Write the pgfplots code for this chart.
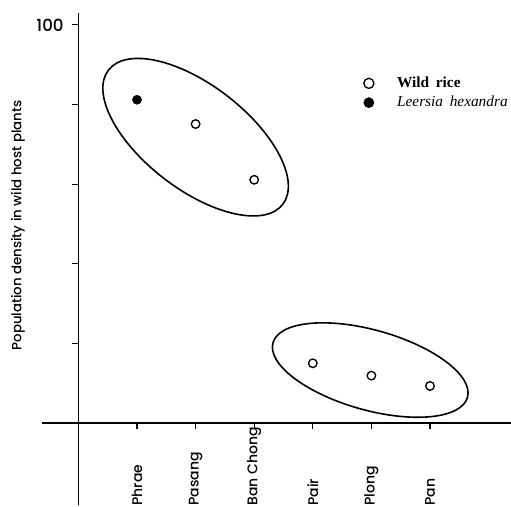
\documentclass[border=0pt]{standalone}
\usepackage{pgfplots}
\pgfplotsset{compat=1.18}
\usepackage{fontspec}
\setmainfont{Liberation Serif}
\newfontfamily\geo{Poppins}[UprightFont={* Medium}]
\begin{document}
\begin{tikzpicture}
\begin{axis}[
  at={(0pt,0pt)}, anchor=south west,
  scale only axis, width=351.75pt, height=369pt,
  xmin=-0.621, xmax=7.382, ymin=-20.6, ymax=103,
  axis lines=middle, axis line style={-, line width=1.1pt},
  clip=false,
  xtick={1,2,3,4,5,6},
  xticklabels={Phrae,Pasang,Ban Chong,Pair,Plong,Pan},
  ytick={20,40,60,80,100},
  yticklabels={,,,,100},
  /pgf/number format/assume math mode=true,
  tick align=outside,
  major tick length=4.5pt,
  tick style={line width=0.8pt, black},
  xticklabel style={font=\geo\fontsize{10.5}{12}\selectfont, yshift=-61pt, rotate=90, anchor=west},
  yticklabel style={font=\geo\fontsize{12.5}{14}\selectfont, xshift=-3pt},
  every axis y label/.style={at={(axis description cs:-0.051,0.568)}, rotate=90, anchor=center, font=\geo\fontsize{10}{12}\selectfont},
  ylabel={Population density in wild host plants},
  legend cell align=left,
  legend style={draw=none, fill=none, at={(axis cs:4.788,82.9)}, anchor=west, font=\fontsize{11.5}{13}\selectfont, row sep=1pt},
  legend image code/.code={\path (-4pt,0pt) (19pt,0pt); \draw[#1, mark size=3.8pt] plot coordinates {(0pt,0pt)};},
]
\addplot[only marks, mark=o, mark size=3.2pt, mark options={line width=1pt, black}] coordinates {(2,75.1)(3,61.1)(4,15.0)(5,11.9)(6,9.3)};
\addlegendentry{\textbf{Wild\hspace{5pt}rice}}
\addplot[only marks, mark=*, mark size=3.4pt, mark options={black, fill=black}] coordinates {(1,81.2)};
\addlegendentry{\textit{Leersia\hspace{5pt}hexandra}}
\draw[line width=1.2pt, rotate around={-37.6:(axis cs:2.00,71.8)}] (axis cs:2.00,71.8) ellipse [x radius=82.5pt, y radius=39pt];
\draw[line width=1.2pt, rotate around={-15.7:(axis cs:4.98,13.3)}] (axis cs:4.98,13.3) ellipse [x radius=75.75pt, y radius=30pt];
\end{axis}
\pgfresetboundingbox
\path (-31.5pt,-1.5pt) rectangle (351.75pt,378.75pt);
\end{tikzpicture}
\end{document}
